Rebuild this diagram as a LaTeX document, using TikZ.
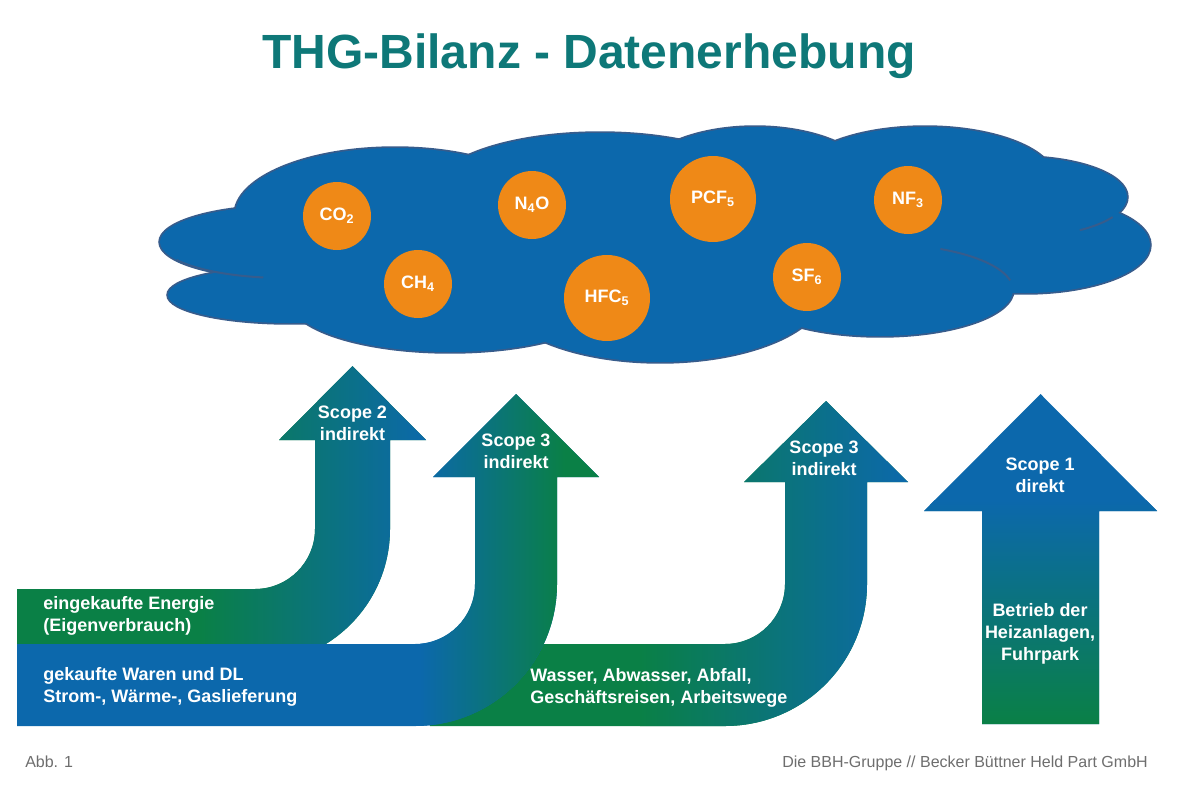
\documentclass[tikz,border=0pt]{standalone}
\usepackage{fontspec}
\setmainfont{Liberation Sans}
\usepackage{tikz}

\definecolor{cloudblue}{RGB}{12,104,172}
\definecolor{cloudedge}{RGB}{55,92,140}
\definecolor{gasorange}{RGB}{239,137,23}
\definecolor{barblue}{RGB}{12,104,172}
\definecolor{bargreen}{RGB}{10,128,70}
\definecolor{titleteal}{RGB}{14,120,120}
\definecolor{footgray}{RGB}{110,110,110}

\begin{document}
\begin{tikzpicture}[x=0.75pt, y=-0.75pt,
    gas/.style={circle, fill=gasorange, text=white, inner sep=0pt,
        font=\bfseries\fontsize{13.5}{16}\selectfont},
    lbl/.style={text=white, inner sep=0pt,
        font=\bfseries\fontsize{13.5}{16.5}\selectfont},
    foot/.style={text=footgray, inner sep=0pt,
        font=\fontsize{12}{14}\selectfont}]

    \useasboundingbox[fill=white] (0,0) rectangle (1194,796);

    % ==========================================
    % TITLE
    % ==========================================
    \node[text=titleteal, font=\bfseries\fontsize{36}{40}\selectfont,
        anchor=base, inner sep=0pt] (title) at (589,68) {THG-Bilanz - Datenerhebung};

    % ==========================================
    % CLOUD
    % Outlines first, then the fills on top, so only the rim shows
    % ==========================================
    \foreach \cx/\cy/\rx/\ry in {285/242/125/36, 290/295/122/28, 395/215/160/67,
        600/193/168/60, 755/185/120/58, 925/180/130/53, 1020/197/107/40,
        1025/245/125/48, 880/290/133/46, 660/290/165/72, 450/300/160/52,
        660/240/420/80}
        \draw[cloudedge, line width=2.6pt] (\cx,\cy) ellipse[x radius=\rx, y radius=\ry];
    \foreach \cx/\cy/\rx/\ry in {285/242/125/36, 290/295/122/28, 395/215/160/67,
        600/193/168/60, 755/185/120/58, 925/180/130/53, 1020/197/107/40,
        1025/245/125/48, 880/290/133/46, 660/290/165/72, 450/300/160/52,
        660/240/420/80}
        \fill[cloudblue] (\cx,\cy) ellipse[x radius=\rx, y radius=\ry];

    % inner rims
    \draw[cloudedge, line width=1.5pt] (176.7,260) arc[start angle=150, end angle=100, x radius=125, y radius=36];
    \draw[cloudedge, line width=1.5pt] (940.4,249) arc[start angle=-63, end angle=-12, x radius=133, y radius=46];
    \draw[cloudedge, line width=1.5pt] (1079.8,230.2) arc[start angle=56, end angle=30, x radius=107, y radius=40];

    % Gases
    \node[gas, minimum size=51pt] (co2) at (337,216) {CO\textsubscript{2}};
    \node[gas, minimum size=51pt] (ch4) at (418,284) {CH\textsubscript{4}};
    \node[gas, minimum size=51pt] (n4o) at (532,205) {N\textsubscript{4}O};
    \node[gas, minimum size=64.5pt] (hfc) at (607,298) {HFC\textsubscript{5}};
    \node[gas, minimum size=64.5pt] (pcf) at (713,199) {PCF\textsubscript{5}};
    \node[gas, minimum size=51pt] (sf6) at (807,277) {SF\textsubscript{6}};
    \node[gas, minimum size=51pt] (nf3) at (908,200) {NF\textsubscript{3}};

    % ==========================================
    % ARROWS
    % ==========================================

    % Scope 2 (green band bending up)
    \begin{scope}
        \clip (17,589) -- (255,589) arc[start angle=90, end angle=0, radius=60]
            -- (315,440) -- (279,440) -- (352.5,366) -- (426,440) -- (390,440)
            -- (390,529) arc[start angle=0, end angle=90, radius=135] -- (17,664) -- cycle;
        \fill[bargreen] (0,350) rectangle (440,700);
        \shade[left color=bargreen, right color=barblue] (200,350) rectangle (430,700);
    \end{scope}

    % Scope 3, right
    \begin{scope}
        \clip (430,644) -- (725,644) arc[start angle=90, end angle=0, radius=60]
            -- (785,482) -- (744,482) -- (826,401) -- (908,482) -- (867,482)
            -- (867,584) arc[start angle=0, end angle=90, radius=142] -- (430,726) -- cycle;
        \fill[bargreen] (420,380) rectangle (920,740);
        \shade[left color=bargreen, right color=barblue] (640,380) rectangle (910,740);
    \end{scope}

    % Scope 3, middle (blue band bending up)
    \begin{scope}
        \clip (17,644) -- (415,644) arc[start angle=90, end angle=0, radius=60]
            -- (475,477) -- (433,477) -- (516,394) -- (599,477) -- (557,477)
            -- (557,584) arc[start angle=0, end angle=90, radius=142] -- (17,726) -- cycle;
        \fill[barblue] (0,380) rectangle (620,740);
        \shade[left color=barblue, right color=bargreen] (420,380) rectangle (565,740);
        \fill[bargreen] (565,380) rectangle (620,740);
    \end{scope}

    % Scope 1 (straight up)
    \begin{scope}
        \clip (982,724) -- (982,511) -- (924,511) -- (1040.5,394) -- (1157,511)
            -- (1099,511) -- (1099,724) -- cycle;
        \fill[barblue] (900,380) rectangle (1170,740);
        \shade[top color=barblue, bottom color=bargreen] (900,500) rectangle (1170,724);
    \end{scope}

    % Labels
    \node[lbl, align=center] (s2) at (352.5,423) {Scope 2\\indirekt};
    \node[lbl, align=center] (s3a) at (516,451) {Scope 3\\indirekt};
    \node[lbl, align=center] (s3b) at (824,458) {Scope 3\\indirekt};
    \node[lbl, align=center] (s1) at (1040,475) {Scope 1\\direkt};
    \node[lbl, align=center] (heiz) at (1040,634) {Betrieb der\\Heizanlagen,\\Fuhrpark};
    \node[lbl, align=left, anchor=west] (energie) at (43,616) {eingekaufte Energie\\(Eigenverbrauch)};
    \node[lbl, align=left, anchor=west] (waren) at (43,687) {gekaufte Waren und DL\\Strom-, Wärme-, Gaslieferung};
    \node[lbl, align=left, anchor=west] (wasser) at (530,688) {Wasser, Abwasser, Abfall,\\Geschäftsreisen, Arbeitswege};

    % ==========================================
    % FOOTER
    % ==========================================
    \node[foot, anchor=base west] (abb) at (25,767) {Abb. 1};
    \node[foot, anchor=base east] (bbh) at (1148,767) {Die BBH-Gruppe // Becker Büttner Held Part GmbH};

\end{tikzpicture}
\end{document}
